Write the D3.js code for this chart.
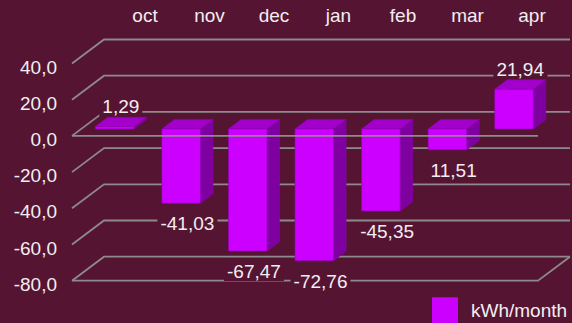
<!DOCTYPE html>
<html>
<head>
<meta charset="utf-8">
<script src="https://cdn.jsdelivr.net/npm/d3@7"></script>
<style>
  html, body { margin: 0; padding: 0; background: #561433; }
  svg { display: block; }
  text { font-family: "Liberation Sans", Arial, Helvetica, sans-serif; }
</style>
</head>
<body>
<svg id="chart" width="572" height="323"></svg>
<script>
// Monthly energy balance
const months = ["oct", "nov", "dec", "jan", "feb", "mar", "apr"];
const kwh = [1.29, -41.03, -67.47, -72.76, -45.35, -11.51, 21.94];
const valueLabels = ["1,29", "-41,03", "-67,47", "-72,76", "-45,35", "11,51", "21,94"];
const yTicks = [-80, -60, -40, -20, 0, 20, 40];
const seriesName = "kWh/month";

const W = 572, H = 323;
const BG = "#561433";
const GRID = "#8e8a8c";
const TEXT = "#f2eef0";
const FRONT = "#cc00ff", TOP = "#a300cc", SIDE = "#7f00a0", EDGE = "#8e00b3";

const svg = d3.select("#chart");
svg.append("rect").attr("width", W).attr("height", H).attr("fill", BG);

// Front plane of the 3D box and its depth offset toward the back wall
const x0 = 72, x1 = 538;
const DX = 32, DY = -24;
const y = d3.scaleLinear().domain([-80, 40]).range([280.7, 63.5]);
const x = d3.scaleBand().domain(months).range([x0, x1]).paddingInner(0.42).paddingOuter(0.21);

// Bars sit between these depth fractions
const d0 = 0.29, d1 = 0.68;
const bdx = DX * (d1 - d0), bdy = DY * (d1 - d0);

const grid = svg.append("g").attr("stroke", GRID).attr("stroke-width", 1.8).attr("fill", "none");

// back wall lines and left wall diagonals
yTicks.forEach(t => {
  const yf = y(t);
  grid.append("path").attr("d", `M${x0},${yf}L${x0 + DX},${yf + DY}L${x1 + DX},${yf + DY}`);
});
// floor front edge and right edge
grid.append("path").attr("d", `M${x0},${y(-80)}L${x1},${y(-80)}L${x1 + DX},${y(-80) + DY}`);

// y axis labels
const fmt = d3.formatLocale({ decimal: ",", thousands: ".", grouping: [3], currency: ["", ""], minus: "-" }).format(".1f");
const yAxis = d3.axisLeft(y).tickValues(yTicks).tickSize(0).tickPadding(15).tickFormat(fmt);
const ya = svg.append("g").attr("transform", `translate(${x0},0)`).call(yAxis);
ya.select(".domain").remove();
ya.selectAll("text")
  .attr("fill", TEXT).attr("font-size", 19).attr("dy", "0.5em")
  .style("font-family", "'Liberation Sans', Arial, Helvetica, sans-serif");

// month labels along the top
const xTop = d3.scalePoint().domain(months).range([145, 532]);
svg.append("g").selectAll("text").data(months).join("text")
  .attr("x", d => xTop(d)).attr("y", 21.7)
  .attr("text-anchor", "middle").attr("font-size", 19).attr("fill", TEXT)
  .text(d => d);

// bars
const yb = v => y(v) + DY * d0;
const bars = svg.append("g").attr("stroke", EDGE).attr("stroke-width", 0.6).attr("stroke-linejoin", "round");
months.forEach((m, i) => {
  const v = kwh[i];
  const bx = x(m) + DX * d0, bw = x.bandwidth();
  const yt = yb(Math.max(v, 0)), ybot = yb(Math.min(v, 0));
  const g = bars.append("g");
  // side face
  g.append("path").attr("fill", SIDE)
    .attr("d", `M${bx + bw},${yt}L${bx + bw + bdx},${yt + bdy}L${bx + bw + bdx},${ybot + bdy}L${bx + bw},${ybot}Z`);
  // top face
  g.append("path").attr("fill", TOP)
    .attr("d", `M${bx},${yt}L${bx + bdx},${yt + bdy}L${bx + bw + bdx},${yt + bdy}L${bx + bw},${yt}Z`);
  // front face
  g.append("path").attr("fill", FRONT)
    .attr("d", `M${bx},${yt}L${bx + bw},${yt}L${bx + bw},${ybot}L${bx},${ybot}Z`);
});

// zero line across the front
svg.append("path")
  .attr("stroke", GRID).attr("stroke-width", 1.8).attr("fill", "none")
  .attr("d", `M${x0},${y(0)}L${x1},${y(0)}`);

// value labels on background boxes
const labels = svg.append("g");
months.forEach((m, i) => {
  const v = kwh[i];
  const cx = x(m) + DX * d0 + x.bandwidth() / 2 + bdx / 2;
  const by = v < 0 ? yb(v) + 27 : yb(v) + bdy - 4;
  const g = labels.append("g");
  const t = g.append("text")
    .attr("x", cx).attr("y", by).attr("text-anchor", "middle")
    .attr("font-size", 19).attr("fill", TEXT).text(valueLabels[i]);
  const bb = t.node().getBBox();
  g.insert("rect", "text")
    .attr("x", bb.x - 3).attr("y", bb.y + 2).attr("width", bb.width + 6).attr("height", bb.height - 3)
    .attr("fill", BG);
});

// legend
const lg = svg.append("g");
lg.append("rect").attr("x", 432).attr("y", 297.3).attr("width", 26).attr("height", 26).attr("fill", FRONT);
lg.append("text").attr("x", 471).attr("y", 316.7).attr("font-size", 19).attr("fill", TEXT).text(seriesName);
</script>
</body>
</html>
